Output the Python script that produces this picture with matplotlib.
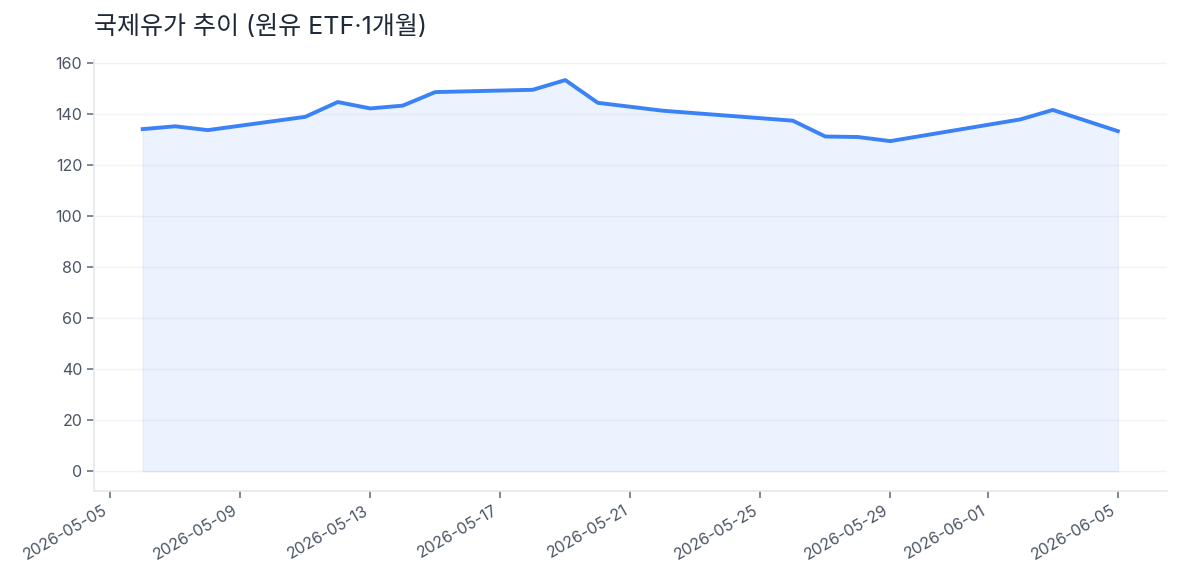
import matplotlib
matplotlib.use("Agg")
import matplotlib.pyplot as plt
import matplotlib.dates as mdates
import pandas as pd

plt.rcParams["font.family"] = ["Inter", "Noto Sans CJK KR", "DejaVu Sans"]

# crude oil ETF close, 1 month
dates = [
    "2026-05-06", "2026-05-07", "2026-05-08", "2026-05-11", "2026-05-12",
    "2026-05-13", "2026-05-14", "2026-05-15", "2026-05-18", "2026-05-19",
    "2026-05-20", "2026-05-22", "2026-05-26", "2026-05-27", "2026-05-28",
    "2026-05-29", "2026-06-02", "2026-06-03", "2026-06-05",
]
prices = [
    134.1, 135.2, 133.7, 138.9, 144.7,
    142.2, 143.3, 148.6, 149.5, 153.3,
    144.4, 141.3, 137.4, 131.2, 131.0,
    129.4, 137.9, 141.6, 133.3,
]
title = "국제유가 추이 (원유 ETF·1개월)"

x = pd.to_datetime(dates)

fig = plt.figure(figsize=(11.82, 5.85), dpi=100)
ax = fig.add_axes([0.0795, 0.1607, 0.9075, 0.736])

ax.fill_between(x, prices, 0, color="#3b82f6", alpha=0.09, linewidth=1)
ax.plot(x, prices, color="#3b82f6", linewidth=2.8)

ax.set_ylim(-7.67, 161)
ax.set_yticks(range(0, 161, 20))
ax.grid(axis="y", color="#f1f2f5", linewidth=1)
ax.set_axisbelow(True)

ax.xaxis.set_major_locator(mdates.AutoDateLocator())
ax.xaxis.set_major_formatter(mdates.DateFormatter("%Y-%m-%d"))
for lbl in ax.get_xticklabels():
    lbl.set_rotation(30)
    lbl.set_ha("right")

for side in ["top", "right"]:
    ax.spines[side].set_visible(False)
for side in ["left", "bottom"]:
    ax.spines[side].set_color("#e5e7eb")
    ax.spines[side].set_linewidth(1.2)

ax.tick_params(colors="#6b7280", labelcolor="#4b5563", labelsize=11.5, length=5, width=1.2)

fig.text(0.0795, 0.953, title, fontsize=18, color="#1f2937", ha="left", va="center")

fig.savefig("out.png", dpi=100)
